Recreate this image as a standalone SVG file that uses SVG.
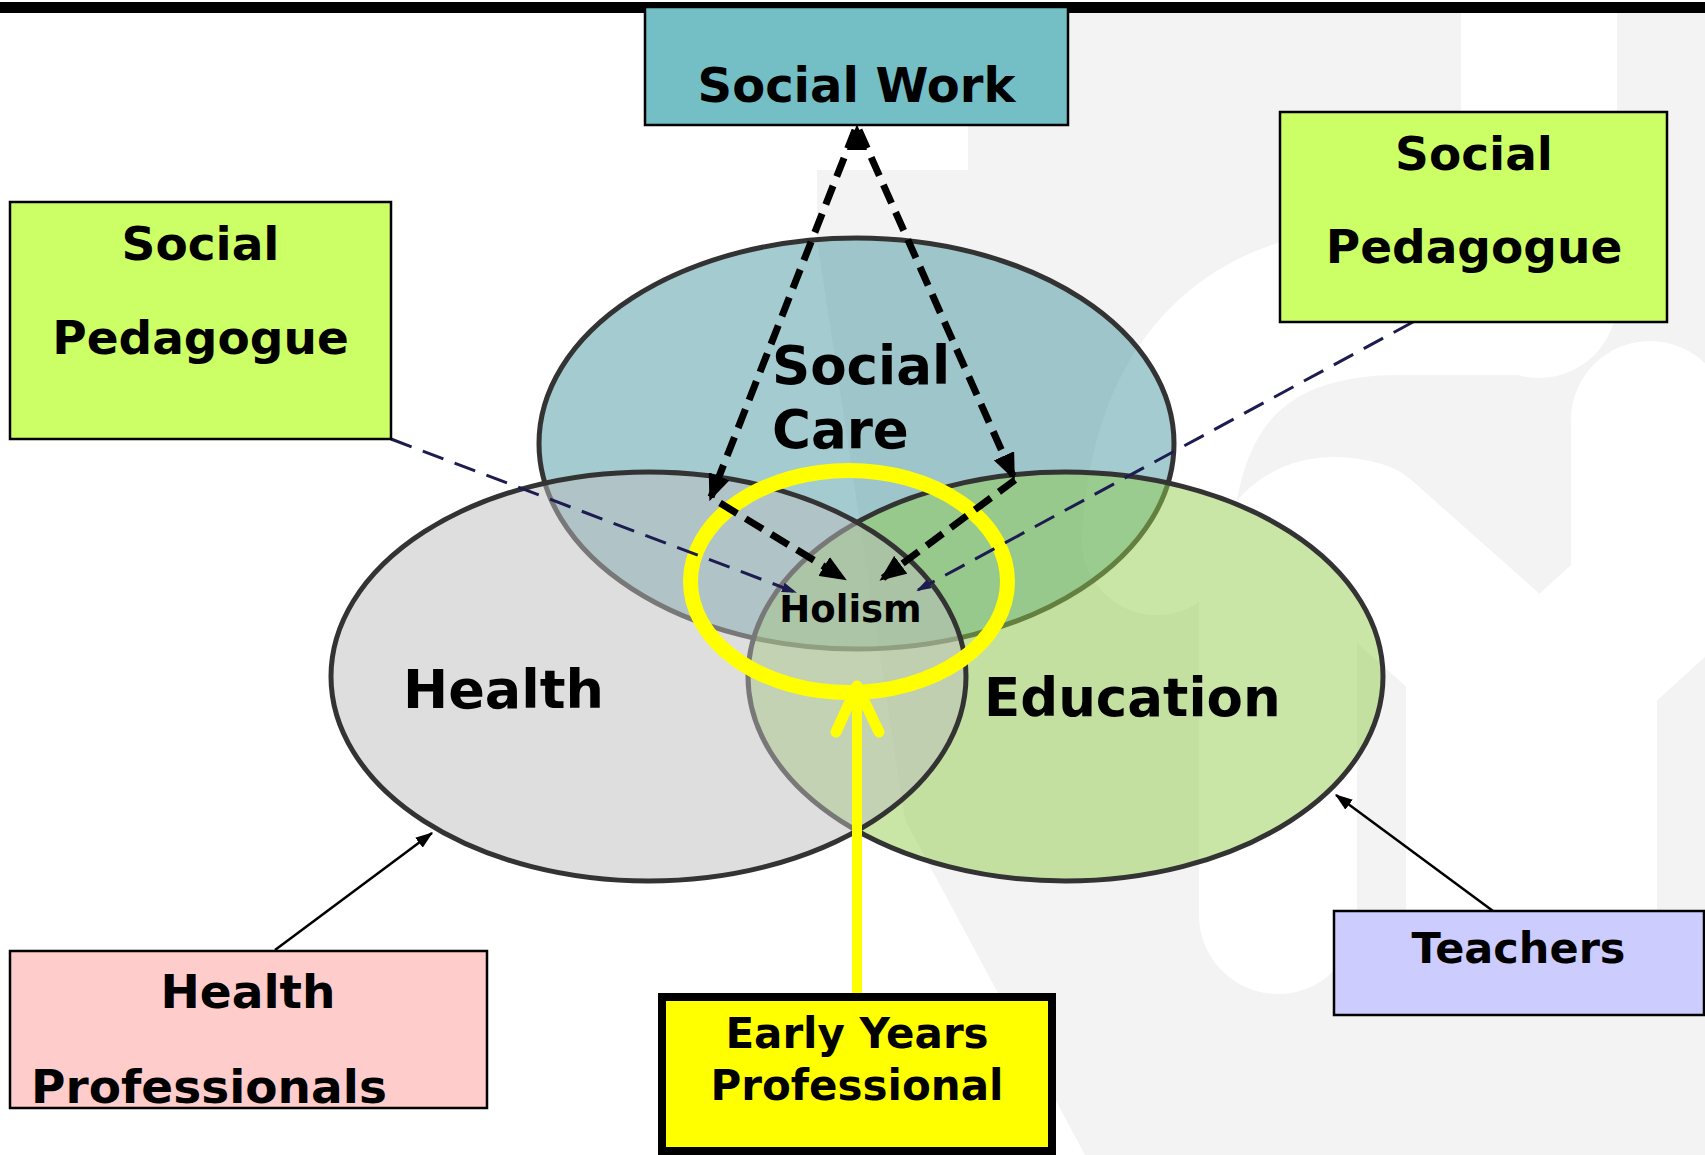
<svg xmlns="http://www.w3.org/2000/svg" width="1705" height="1155" viewBox="0 0 1705 1155">
<defs>
<style>
.lbl{font-family:"DejaVu Sans","Liberation Sans",sans-serif;font-weight:bold;fill:#000}
.box{stroke:#000;stroke-width:2.5}
.ell{stroke:#333;stroke-width:5}
.blk{fill:none;stroke:#000;stroke-width:7;stroke-dasharray:20 10}
.navy{fill:none;stroke:#1c1c50;stroke-width:3;stroke-dasharray:22 12}
.thin{fill:none;stroke:#000;stroke-width:2.5}
.wm{fill:#f3f3f3}
.wmw{fill:none;stroke:#fff;stroke-linecap:round;stroke-linejoin:round}
</style>
<marker id="ahBig" viewBox="0 0 12 10" refX="10" refY="5" markerWidth="3.8" markerHeight="3.2" orient="auto" markerUnits="strokeWidth"><path d="M0,0 L12,5 L0,10 z" fill="#000"/></marker>
<marker id="ahNavy" viewBox="0 0 15 10" refX="13" refY="5" markerWidth="5" markerHeight="3.33" orient="auto" markerUnits="strokeWidth"><path d="M0,0 L15,5 L0,10 z" fill="#1c1c50"/></marker>
<marker id="ahThin" viewBox="0 0 14 10" refX="13" refY="5" markerWidth="7" markerHeight="5" orient="auto" markerUnits="strokeWidth"><path d="M0,0 L14,5 L0,10 z" fill="#000"/></marker>
</defs>
<rect x="0" y="0" width="1705" height="1155" fill="#fff"/>
<g id="watermark">
<path class="wm" d="M817,170 H968 V13 H1705 V1155 H1085 L905,820 L817,240 Z"/>
<path class="wmw" stroke-width="156" d="M1539,13 V300"/>
<path class="wmw" stroke-width="150" d="M1157,540 Q1170,300 1400,300 L1539,300"/>
<path class="wmw" stroke-width="158" d="M1278,915 V600 Q1290,520 1360,540 L1540,700 L1650,600 V420"/>
<rect x="1406" y="640" width="251" height="270" fill="#fff"/>
</g>
<rect x="0" y="2" width="1705" height="11" fill="#000"/>
<g id="ellipses">
<g id="social-care"><ellipse class="ell" cx="856.5" cy="443.5" rx="317.5" ry="205.5" fill="#4797a1" fill-opacity="0.5"/></g>
<g id="education"><ellipse class="ell" cx="1065.5" cy="676.5" rx="317.5" ry="204.5" fill="#93cd4d" fill-opacity="0.5"/></g>
<g id="health"><ellipse class="ell" cx="648.5" cy="676.5" rx="317.5" ry="204.5" fill="#bdbdbd" fill-opacity="0.5"/></g>
</g>
<g id="ellipse-labels">
<text class="lbl" x="772" y="384" font-size="53">Social</text>
<text class="lbl" x="772" y="448" font-size="53">Care</text>
<text class="lbl" x="403" y="708" font-size="54">Health</text>
<text class="lbl" x="984" y="716" font-size="53">Education</text>
</g>
<g id="holism-ring">
<ellipse cx="849" cy="581.5" rx="158.5" ry="111" fill="none" stroke="#ffff00" stroke-width="15"/>
<text class="lbl" x="850.5" y="622" font-size="37" text-anchor="middle">Holism</text>
</g>
<g id="connectors">
<line class="blk" x1="855" y1="130" x2="711" y2="497" marker-end="url(#ahBig)"/>
<line class="blk" x1="859" y1="130" x2="1013" y2="476" marker-end="url(#ahBig)"/>
<polygon points="857,124 847,150 867,150" fill="#000"/>
<line class="blk" x1="720" y1="503" x2="843" y2="578" marker-end="url(#ahBig)"/>
<line class="blk" x1="1015" y1="480" x2="883" y2="578" marker-end="url(#ahBig)"/>
<line class="navy" x1="391" y1="439" x2="795" y2="592" marker-end="url(#ahNavy)"/>
<line class="navy" x1="1413" y1="322" x2="918" y2="590" marker-end="url(#ahNavy)"/>
<line class="thin" x1="275" y1="950" x2="432" y2="833" marker-end="url(#ahThin)"/>
<line class="thin" x1="1493" y1="911" x2="1336" y2="795" marker-end="url(#ahThin)"/>
<line x1="857" y1="993" x2="857" y2="692" stroke="#ffff00" stroke-width="10"/>
<polyline points="836,732 857,686 879,732" fill="none" stroke="#ffff00" stroke-width="11" stroke-linecap="round" stroke-linejoin="round"/>
</g>
<g id="social-work">
<rect class="box" x="645" y="7" width="423" height="118" fill="#73bfc5"/>
<text class="lbl" x="856.5" y="102" font-size="48" text-anchor="middle">Social Work</text>
</g>
<g id="social-pedagogue-left">
<rect class="box" x="10" y="202" width="381" height="237" fill="#ccff66"/>
<text class="lbl" x="200.5" y="260" font-size="47" text-anchor="middle">Social</text>
<text class="lbl" x="200.5" y="354" font-size="47" text-anchor="middle">Pedagogue</text>
</g>
<g id="social-pedagogue-right">
<rect class="box" x="1280" y="112" width="387" height="210" fill="#ccff66"/>
<text class="lbl" x="1474" y="170" font-size="47" text-anchor="middle">Social</text>
<text class="lbl" x="1474" y="263" font-size="47" text-anchor="middle">Pedagogue</text>
</g>
<g id="health-professionals">
<rect class="box" x="10" y="951" width="477" height="157" fill="#ffcccc"/>
<text class="lbl" x="248" y="1008" font-size="47" text-anchor="middle">Health</text>
<text class="lbl" x="31" y="1103" font-size="47">Professionals</text>
</g>
<g id="teachers">
<rect class="box" x="1334" y="911" width="370" height="104" fill="#ccccff"/>
<text class="lbl" x="1518.5" y="963" font-size="43" text-anchor="middle">Teachers</text>
</g>
<g id="early-years-professional">
<rect x="662" y="997" width="390" height="154" fill="#ffff00" stroke="#000" stroke-width="8"/>
<text class="lbl" x="857" y="1048" font-size="42" text-anchor="middle">Early Years</text>
<text class="lbl" x="857" y="1100" font-size="42" text-anchor="middle">Professional</text>
</g>
</svg>
